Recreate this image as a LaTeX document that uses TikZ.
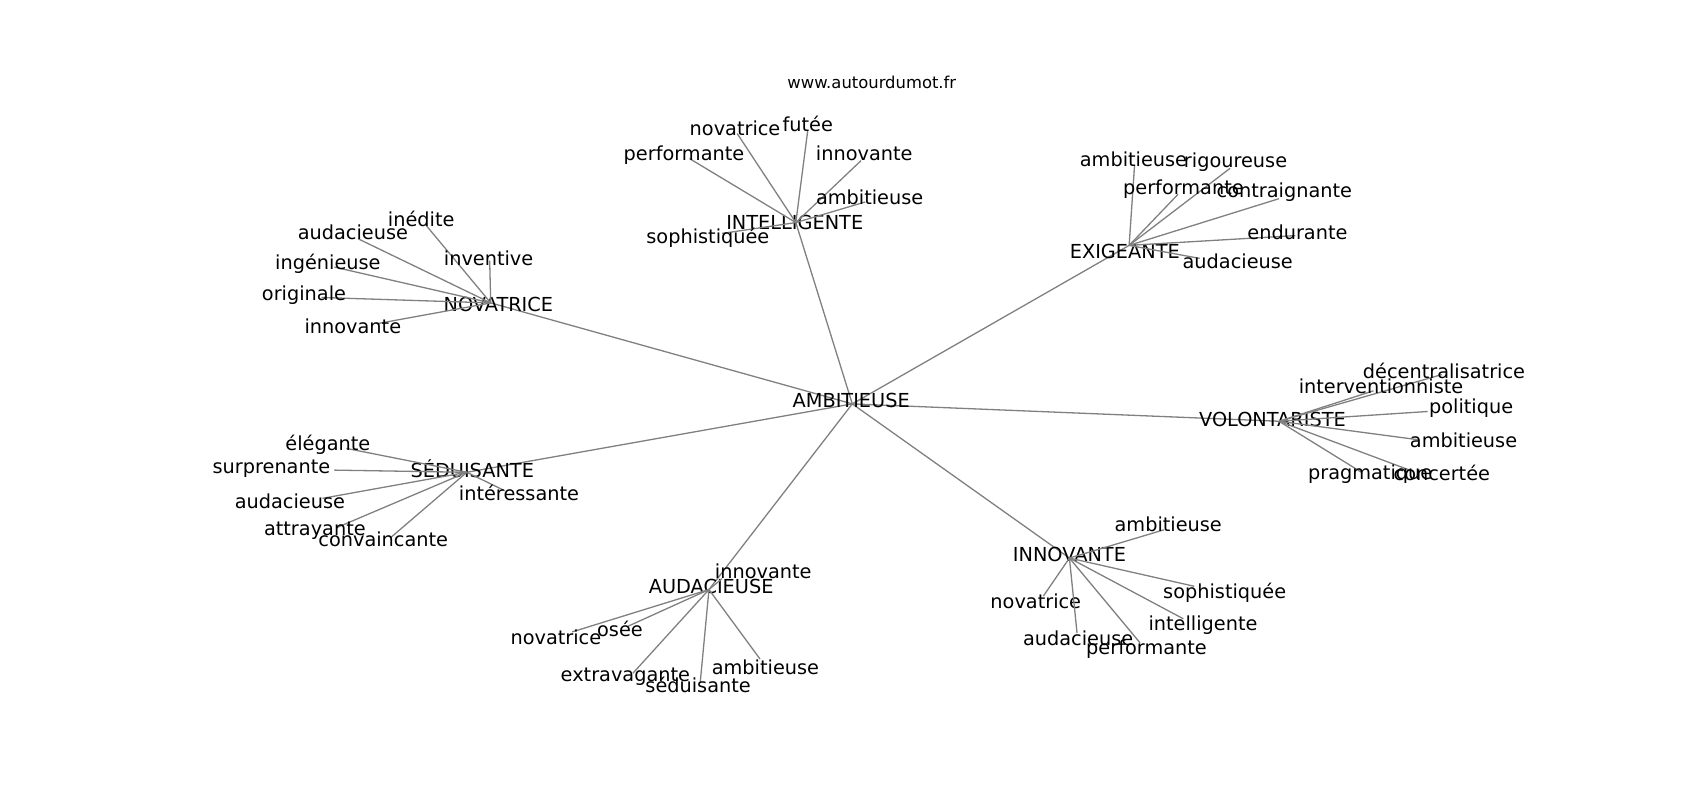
\documentclass[tikz,border=0pt]{standalone}
\usepackage{fontspec}
\setmainfont{DejaVu Sans}
\begin{document}
\begin{tikzpicture}[x=1.0857pt,y=-1.0857pt,
    word/.style={font=\fontsize{19.3}{22}\selectfont, inner sep=0pt},
    edge/.style={draw=gray, line width=1.3pt}]
    \useasboundingbox (0,0) rectangle (1565.8,736.8);
    \node[font=\fontsize{16.4}{19}\selectfont] (site) at (803,76) {www.autourdumot.fr};
    % hubs
    \coordinate (amb) at (785,372);
    \coordinate (nova) at (452,279);
    \coordinate (intel) at (733,205);
    \coordinate (exig) at (1040,226);
    \coordinate (volo) at (1178,388);
    \coordinate (sedu) at (430,435);
    \coordinate (auda) at (653,543);
    \coordinate (innov) at (985,514);
    \foreach \h in {nova,intel,exig,volo,sedu,auda,innov}
        \draw[edge] (amb) -- (\h);
    \node[word] (amb-t) at (784,369) {AMBITIEUSE};
    \node[word] (nova-t) at (459,280) {NOVATRICE};
    \node[word] (intel-t) at (732,205) {INTELLIGENTE};
    \node[word] (exig-t) at (1036,232) {EXIGEANTE};
    \node[word] (volo-t) at (1172,386) {VOLONTARISTE};
    \node[word] (sedu-t) at (435,432) {SÉDUISANTE};
    \node[word] (auda-t) at (655,540) {AUDACIEUSE};
    \node[word] (innov-t) at (985,511) {INNOVANTE};
    % leaves: end of edge / text centre / text
    \foreach \n/\e/\c/\t in {1/{392,207}/{388,202}/inédite, 2/{330,220}/{325,214}/audacieuse,
        3/{451,240}/{450,238}/inventive, 4/{308,246}/{302,243}/ingénieuse,
        5/{296,274}/{280,272}/originale, 6/{348,298}/{325,301}/innovante} {
        \coordinate (nova-\n) at (\e);
        \draw[edge] (nova) -- (nova-\n);
        \node[word] (nova-\n-t) at (\c) {\t};
    }
    \foreach \n/\e/\c/\t in {1/{679,123}/{677,118}/novatrice, 2/{744,120}/{744,114}/futée,
        3/{635,146}/{630,143}/performante, 4/{793,148}/{796,141}/innovante,
        5/{797,186}/{801,182}/ambitieuse, 6/{665,215}/{652,219}/sophistiquée} {
        \coordinate (intel-\n) at (\e);
        \draw[edge] (intel) -- (intel-\n);
        \node[word] (intel-\n-t) at (\c) {\t};
    }
    \foreach \n/\e/\c/\t in {1/{1045,152}/{1044,147}/ambitieuse, 2/{1133,155}/{1138,149}/rigoureuse,
        3/{1085,179}/{1090,174}/performante, 4/{1178,183}/{1183,177}/contraignante,
        5/{1193,217}/{1195,214}/endurante, 6/{1105,238}/{1140,241}/audacieuse} {
        \coordinate (exig-\n) at (\e);
        \draw[edge] (exig) -- (exig-\n);
        \node[word] (exig-\n-t) at (\c) {\t};
    }
    \foreach \n/\e/\c/\t in {1/{1328,345}/{1330,342}/décentralisatrice, 2/{1265,360}/{1272,356}/interventionniste,
        3/{1315,379}/{1355,376}/politique, 4/{1306,405}/{1348,406}/ambitieuse,
        5/{1301,434}/{1328,436}/concertée, 6/{1254,435}/{1262,437}/pragmatique} {
        \coordinate (volo-\n) at (\e);
        \draw[edge] (volo) -- (volo-\n);
        \node[word] (volo-\n-t) at (\c) {\t};
    }
    \foreach \n/\e/\c/\t in {1/{319,413}/{302,410}/élégante, 2/{308,433}/{250,432}/surprenante,
        3/{297,459}/{267,462}/audacieuse, 4/{310,486}/{290,489}/attrayante,
        5/{360,495}/{353,497}/convaincante, 6/{465,452}/{478,454}/intéressante} {
        \coordinate (sedu-\n) at (\e);
        \draw[edge] (sedu) -- (sedu-\n);
        \node[word] (sedu-\n-t) at (\c) {\t};
    }
    \foreach \n/\e/\c/\t in {1/{665,533}/{703,526}/innovante, 2/{527,582}/{512,587}/novatrice,
        3/{578,577}/{571,579}/osée, 4/{583,620}/{576,623}/extravagante,
        5/{645,628}/{643,631}/séduisante, 6/{700,607}/{705,615}/ambitieuse} {
        \coordinate (auda-\n) at (\e);
        \draw[edge] (auda) -- (auda-\n);
        \node[word] (auda-\n-t) at (\c) {\t};
    }
    \foreach \n/\e/\c/\t in {1/{1072,488}/{1076,483}/ambitieuse, 2/{961,549}/{954,554}/novatrice,
        3/{1100,540}/{1128,546}/sophistiquée, 4/{1090,570}/{1108,576}/intelligente,
        5/{992,583}/{993,588}/audacieuse, 6/{1050,592}/{1056,598}/performante} {
        \coordinate (innov-\n) at (\e);
        \draw[edge] (innov) -- (innov-\n);
        \node[word] (innov-\n-t) at (\c) {\t};
    }
\end{tikzpicture}
\end{document}
